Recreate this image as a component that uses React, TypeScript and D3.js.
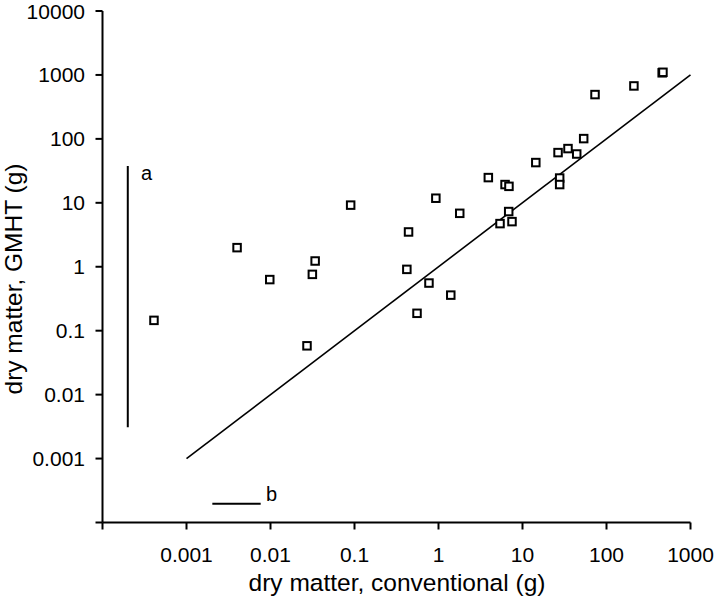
import React from "react";
import * as d3 from "d3";

const conventional = [0.00041, 0.004, 0.0098, 0.034, 0.0315, 0.0272, 0.09, 0.93, 1.79, 0.44, 0.42, 0.77, 1.4, 0.555, 3.92, 6.2, 6.9, 6.85, 7.5, 5.4, 14.4, 27.7, 27.7, 26.5, 34.8, 44.2, 53.5, 73, 212, 460, 470];
const gmht = [0.145, 1.99, 0.63, 1.23, 0.76, 0.058, 9.2, 11.8, 6.85, 3.5, 0.91, 0.556, 0.36, 0.187, 24.8, 19.3, 18.1, 7.3, 5.08, 4.73, 42.6, 24.4, 19.3, 61, 70.5, 58, 101, 493, 673, 1080, 1100];

const xTickValues = [0.0001, 0.001, 0.01, 0.1, 1, 10, 100, 1000];
const xTickLabels = ["", "0.001", "0.01", "0.1", "1", "10", "100", "1000"];
const yTickValues = [0.0001, 0.001, 0.01, 0.1, 1, 10, 100, 1000, 10000];
const yTickLabels = ["", "0.001", "0.01", "0.1", "1", "10", "100", "1000", "10000"];

const identityLine = [0.001, 1000];
// range bars (data units)
const barA = { x: 0.0002, y0: 0.0031, y1: 37.7, label: "a" };
const barB = { x0: 0.00203, x1: 0.00764, y: 0.000197, label: "b" };

const xTitle = "dry matter, conventional (g)";
const yTitle = "dry matter, GMHT (g)";

export default function App() {
  const x = d3.scaleLog().domain([1e-4, 1e3]).range([102.5, 690.5]);
  const y = d3.scaleLog().domain([1e-4, 1e4]).range([522.5, 11]);
  const font = "Arial, 'Liberation Sans', Helvetica, sans-serif";
  const pts = conventional.map((c, i) => ({ c, g: gmht[i] }));
  const line = d3.line<number>().x((d) => x(d)).y((d) => y(d));
  const sq = 7.5;
  return (
    <svg
      width={716}
      height={605}
      style={{ position: "absolute", left: 0, top: 0, background: "#fff" }}
      fontFamily={font}
    >
      <rect x={0} y={0} width={716} height={605} fill="#fff" />
      {/* axes */}
      <line x1={x(1e-4)} x2={x(1e3)} y1={y(1e-4)} y2={y(1e-4)} stroke="#000" strokeWidth={2} />
      <line x1={x(1e-4)} x2={x(1e-4)} y1={y(1e-4)} y2={y(1e4)} stroke="#000" strokeWidth={2} />
      {yTickValues.map((v, i) => (
        <g key={"yt" + i}>
          <line x1={x(1e-4) - 7} x2={x(1e-4)} y1={y(v)} y2={y(v)} stroke="#000" strokeWidth={2} />
          <text x={85} y={y(v)} dy="0.36em" textAnchor="end" fontSize={21} fill="#000">
            {yTickLabels[i]}
          </text>
        </g>
      ))}
      {xTickValues.map((v, i) => (
        <g key={"xt" + i}>
          <line x1={x(v)} x2={x(v)} y1={y(1e-4)} y2={y(1e-4) + 7} stroke="#000" strokeWidth={2} />
          <text x={x(v)} y={562} textAnchor="middle" fontSize={21} fill="#000">
            {xTickLabels[i]}
          </text>
        </g>
      ))}
      <text x={397} y={591} textAnchor="middle" fontSize={24.5} fill="#000">
        {xTitle}
      </text>
      <text
        transform={`translate(22,279) rotate(-90)`}
        textAnchor="middle"
        fontSize={24.5}
        fill="#000"
      >
        {yTitle}
      </text>
      {/* 1:1 line */}
      <path d={line(identityLine) || ""} fill="none" stroke="#000" strokeWidth={1.6} />
      {/* range bars */}
      <line x1={x(barA.x)} x2={x(barA.x)} y1={y(barA.y0)} y2={y(barA.y1)} stroke="#000" strokeWidth={2} />
      <text x={141} y={180} fontSize={20} fill="#000">{barA.label}</text>
      <line x1={x(barB.x0)} x2={x(barB.x1)} y1={y(barB.y)} y2={y(barB.y)} stroke="#000" strokeWidth={2} />
      <text x={266} y={501} fontSize={20} fill="#000">{barB.label}</text>
      {/* points */}
      {pts.map((p, i) => (
        <rect
          key={"p" + i}
          x={x(p.c) - sq / 2}
          y={y(p.g) - sq / 2}
          width={sq}
          height={sq}
          fill="#fff"
          stroke="#000"
          strokeWidth={2}
        />
      ))}
    </svg>
  );
}
